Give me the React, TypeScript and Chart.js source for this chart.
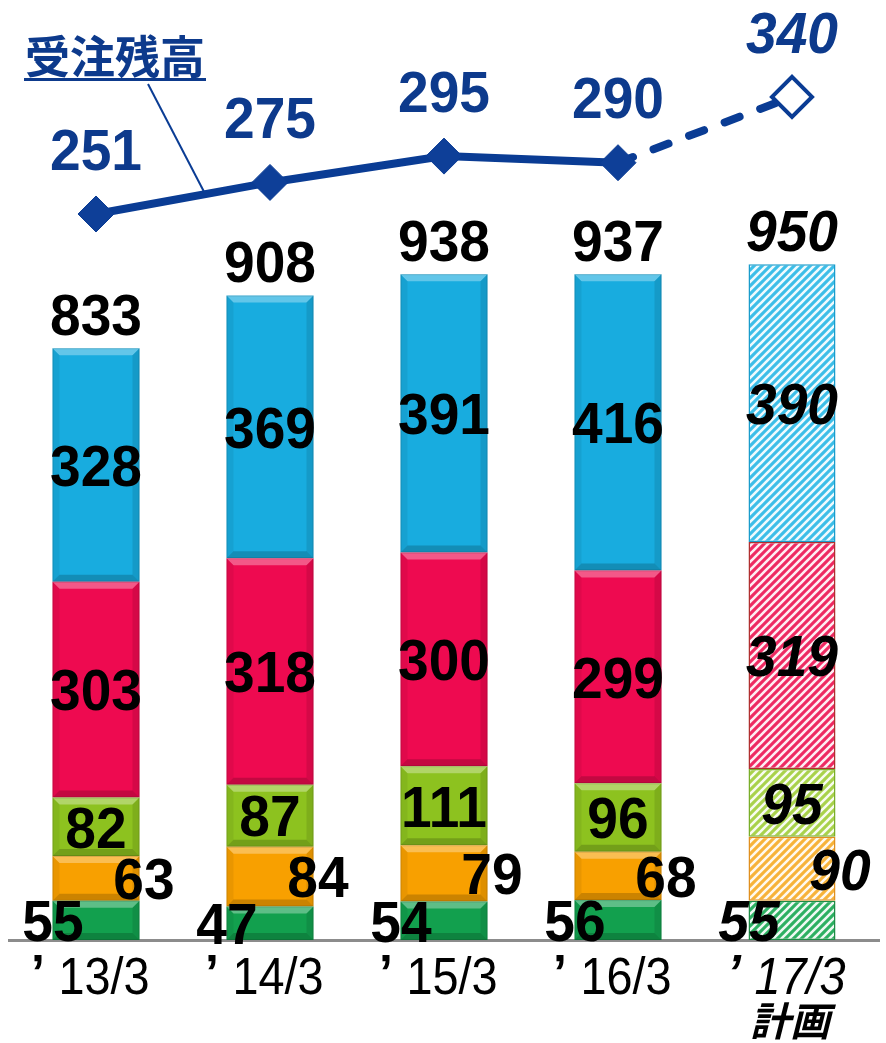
import React, { useEffect, useRef } from 'react';
import { Chart, registerables } from 'chart.js';
Chart.register(...registerables);

// ---- data ----
const categories = ['’13/3', '’14/3', '’15/3', '’16/3', '’17/3'];
const planLabel = '計画';
const green = [55, 47, 54, 56, 55];
const orange = [63, 84, 79, 68, 90];
const lime = [82, 87, 111, 96, 95];
const red = [303, 318, 300, 299, 319];
const blue = [328, 369, 391, 416, 390];
const totals = [833, 908, 938, 937, 950];
const backlog = [251, 275, 295, 290, 340];
const legendTitle = '受注残高';
const planIndex = 4;

const LINE_BLUE = '#0a3c94';
const TEXT_BLUE = '#0d3a8c';
const NUM_SIZE = 58;
const NUM_SX = 0.95;

function numFont(italic: boolean) {
  return `${italic ? 'italic ' : ''}bold ${NUM_SIZE}px "Liberation Sans", Arial, sans-serif`;
}

function drawText(ctx: CanvasRenderingContext2D, text: string, x: number, y: number, font: string, color: string, sx = 1, align: CanvasTextAlign = 'center') {
  ctx.save();
  ctx.font = font;
  ctx.fillStyle = color;
  ctx.textAlign = align;
  ctx.textBaseline = 'alphabetic';
  ctx.translate(x, y);
  ctx.scale(sx, 1);
  ctx.fillText(text, 0, 0);
  ctx.restore();
}

function makePattern(ctx: CanvasRenderingContext2D, color: string) {
  const c = document.createElement('canvas');
  c.width = 8;
  c.height = 8;
  const g = c.getContext('2d')!;
  g.fillStyle = color;
  g.fillRect(0, 0, 8, 8);
  g.strokeStyle = 'rgba(255,255,255,0.92)';
  g.lineWidth = 2.6;
  g.beginPath();
  g.moveTo(0, 8); g.lineTo(8, 0);
  g.moveTo(-4, 4); g.lineTo(4, -4);
  g.moveTo(4, 12); g.lineTo(12, 4);
  g.stroke();
  return ctx.createPattern(c, 'repeat')!;
}

const bevelPlugin = {
  id: 'bevel',
  afterDatasetDraw(chart: any, args: any) {
    const meta = args.meta;
    if (meta.type !== 'bar') return;
    const ctx: CanvasRenderingContext2D = chart.ctx;
    meta.data.forEach((el: any, i: number) => {
      if (i === planIndex) return;
      const { x, y, base, width } = el.getProps(['x', 'y', 'base', 'width'], true);
      const l = x - width / 2, r = x + width / 2;
      const t = Math.min(y, base), b = Math.max(y, base);
      const bv = Math.min(7, (b - t) / 3);
      ctx.save();
      ctx.fillStyle = 'rgba(255,255,255,0.32)';
      ctx.beginPath();
      ctx.moveTo(l, t); ctx.lineTo(r, t); ctx.lineTo(r - bv, t + bv); ctx.lineTo(l + bv, t + bv);
      ctx.closePath(); ctx.fill();
      ctx.fillStyle = 'rgba(0,0,0,0.18)';
      ctx.beginPath();
      ctx.moveTo(l, b); ctx.lineTo(r, b); ctx.lineTo(r - bv, b - bv); ctx.lineTo(l + bv, b - bv);
      ctx.closePath(); ctx.fill();
      ctx.fillStyle = 'rgba(0,0,0,0.10)';
      ctx.beginPath();
      ctx.moveTo(r, t); ctx.lineTo(r, b); ctx.lineTo(r - bv, b - bv); ctx.lineTo(r - bv, t + bv);
      ctx.closePath(); ctx.fill();
      ctx.fillStyle = 'rgba(0,0,0,0.06)';
      ctx.beginPath();
      ctx.moveTo(l, t); ctx.lineTo(l, b); ctx.lineTo(l + bv, b - bv); ctx.lineTo(l + bv, t + bv);
      ctx.closePath(); ctx.fill();
      ctx.strokeStyle = 'rgba(0,0,0,0.12)';
      ctx.lineWidth = 1;
      ctx.strokeRect(l + 0.5, t + 0.5, width - 1, b - t - 1);
      ctx.restore();
    });
  },
};

const labelsPlugin = {
  id: 'valueLabels',
  afterDraw(chart: any) {
    const ctx: CanvasRenderingContext2D = chart.ctx;
    const dsList = chart.data.datasets;
    let topMeta: any = null;
    dsList.forEach((ds: any, di: number) => {
      const meta = chart.getDatasetMeta(di);
      if (meta.type === 'bar') {
        topMeta = meta;
        meta.data.forEach((el: any, i: number) => {
          const { x, y, base } = el.getProps(['x', 'y', 'base'], true);
          const cy = (y + base) / 2;
          drawText(ctx, String(ds.data[i]), x + (ds.labelDx || 0), cy + NUM_SIZE * 0.358, numFont(i === planIndex), '#000', NUM_SX);
        });
      } else if (meta.type === 'line') {
        meta.data.forEach((el: any, i: number) => {
          const { x, y } = el.getProps(['x', 'y'], true);
          drawText(ctx, String(ds.data[i]), x, y - 65 + NUM_SIZE * 0.358, numFont(i === planIndex), TEXT_BLUE, NUM_SX);
        });
        const p0 = meta.data[0].getProps(['x', 'y'], true);
        const p1 = meta.data[1].getProps(['x', 'y'], true);
        const t = 0.62;
        const lx = p0.x + (p1.x - p0.x) * t;
        const ly = p0.y + (p1.y - p0.y) * t - 3;
        ctx.save();
        ctx.strokeStyle = LINE_BLUE;
        ctx.lineWidth = 2;
        ctx.beginPath();
        ctx.moveTo(148, 84);
        ctx.lineTo(lx, ly);
        ctx.stroke();
        ctx.restore();
      }
    });
    if (topMeta) {
      topMeta.data.forEach((el: any, i: number) => {
        const { x, y } = el.getProps(['x', 'y'], true);
        drawText(ctx, String(totals[i]), x, y - 34 + NUM_SIZE * 0.358, numFont(i === planIndex), '#000', NUM_SX);
      });
    }
    // category labels under the axis
    const xs = chart.scales.x;
    const axisY = xs.top;
    categories.forEach((c: string, i: number) => {
      const x = xs.getPixelForValue(i);
      const it = i === planIndex;
      const style = it ? 'italic ' : '';
      const base = axisY + 54;
      const quote = c.charAt(0);
      const rest = c.slice(1);
      drawText(ctx, quote, x - 51, base - 4, `${style}bold 50px "Liberation Sans", Arial, sans-serif`, '#000', 1, 'right');
      drawText(ctx, rest, x + 8, base, `${style}52px "Liberation Sans", Arial, sans-serif`, '#000', 0.9);
      if (it) {
        drawText(ctx, planLabel, x - 2, axisY + 96, 'italic bold 40px "Noto Sans CJK JP", sans-serif', '#000', 1);
      }
    });
    ctx.save();
    ctx.font = 'bold 45px "Noto Sans CJK JP", sans-serif';
    ctx.fillStyle = TEXT_BLUE;
    ctx.textAlign = 'left';
    ctx.textBaseline = 'alphabetic';
    ctx.fillText(legendTitle, 25, 74);
    const w = ctx.measureText(legendTitle).width;
    ctx.fillRect(24, 78, w + 2, 3);
    ctx.restore();
  },
};

export default function App() {
  const ref = useRef<HTMLCanvasElement>(null);
  useEffect(() => {
    document.body.style.margin = '0';
    const canvas = ref.current!;
    const ctx = canvas.getContext('2d')!;

    const cache: Record<string, CanvasPattern> = {};
    function makePatternCached(color: string) {
      if (!cache[color]) cache[color] = makePattern(ctx, color);
      return cache[color];
    }

    const mkBar = (label: string, data: number[], solid: string, hatch: string, edge: string, labelDx = 0) => ({
      type: 'bar',
      label,
      data,
      yAxisID: 'y',
      order: 1,
      labelDx,
      backgroundColor: (c: any) => (c.dataIndex === planIndex ? makePatternCached(hatch) : solid),
      borderColor: edge,
      borderWidth: (c: any) => (c.dataIndex === planIndex ? 1.5 : 0),
      borderSkipped: false,
      barPercentage: 0.5,
      categoryPercentage: 1.0,
    });

    const chart = new Chart(ctx, {
      type: 'bar',
      data: {
        labels: categories,
        datasets: [
          {
            type: 'line',
            label: legendTitle,
            data: backlog,
            yAxisID: 'y2',
            order: 0,
            borderColor: LINE_BLUE,
            borderWidth: 8,
            borderCapStyle: 'round',
            tension: 0,
            fill: false,
            clip: false,
            pointStyle: 'rectRot',
            pointRadius: (c: any) => (c.dataIndex === planIndex ? 20 : 18),
            pointBackgroundColor: (c: any) => (c.dataIndex === planIndex ? '#ffffff' : '#0e3f98'),
            pointBorderColor: LINE_BLUE,
            pointBorderWidth: (c: any) => (c.dataIndex === planIndex ? 4 : 1),
            segment: {
              borderDash: (c: any) => (c.p1DataIndex === planIndex ? [16, 22] : undefined),
            },
          } as any,
          mkBar('green', green, '#12a04e', '#2db062', '#1e8c46', -43),
          mkBar('orange', orange, '#f8a000', '#f7b33a', '#e09020', 48),
          mkBar('lime', lime, '#8dc21f', '#a9d24c', '#7aae2a'),
          mkBar('red', red, '#ee0a50', '#ee2a62', '#b03030'),
          mkBar('blue', blue, '#18acdf', '#3dbee8', '#1a9ccb'),
        ] as any,
      },
      options: {
        responsive: false,
        animation: false,
        layout: { autoPadding: false, padding: { left: 9, right: 7, top: 0, bottom: 0 } },
        plugins: { legend: { display: false }, tooltip: { enabled: false } },
        scales: {
          x: {
            stacked: true,
            offset: true,
            grid: { display: false },
            border: { display: true, color: '#8c8c8c', width: 3 },
            ticks: { display: false },
            afterFit: (s: any) => { s.height = 103; },
          },
          y: { stacked: true, display: false, min: 0, max: 1320 },
          y2: { display: false, min: -301, max: 413.7 },
        },
      } as any,
      plugins: [bevelPlugin, labelsPlugin],
    });
    return () => chart.destroy();
  }, []);
  return <canvas ref={ref} width={886} height={1043} style={{ display: 'block', width: 886, height: 1043 }} />;
}
